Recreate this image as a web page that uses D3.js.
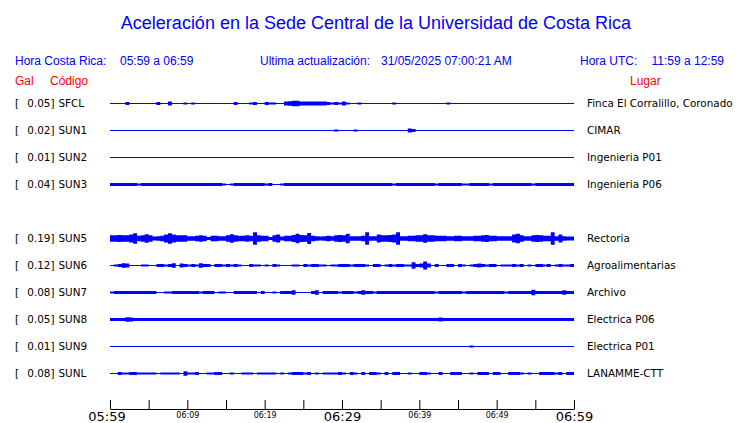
<!DOCTYPE html>
<html><head><meta charset="utf-8">
<script src="https://cdn.jsdelivr.net/npm/d3@7"></script>
<style>body{margin:0;background:#fff}svg{display:block}</style>
</head><body>
<svg id="c" width="740" height="423"></svg>
<script>
// ---------- data ----------
const stations = ["SFCL","SUN1","SUN2","SUN3","SUN5","SUN6","SUN7","SUN8","SUN9","SUNL"];
const rowSlots = [0,1,2,3,5,6,7,8,9,10];
const galValues = ["0.05","0.02","0.01","0.04","0.19","0.12","0.08","0.05","0.01","0.08"];
const places = ["Finca El Corralillo, Coronado","CIMAR","Ingenieria P01","Ingenieria P06","Rectoria","Agroalimentarias","Archivo","Electrica P06","Electrica P01","LANAMME-CTT"];
const tickMinutes = [0,5,10,15,20,25,30,35,40,45,50,55,60];
const tickLabels = ["05:59","06:09","06:19","06:29","06:39","06:49","06:59"];

// envelope amplitude per 30-second window (relative units), 120 windows = 60 min
const SFCL = [0,0,0,0,1,0,0,0,0,0, 0,0,1,0,0,1.5,0,0,0,0.5, 0,0.5,0,0,0,0,0,0,0,0, 0,0,1,0,0,0,0.5,1,0,0,
  1,0.5,0.5,0,0,1.5,2,2.5,2.5,1.5, 1.5,1.5,1.5,1.5,1.5,1.5,1,0.5,1,0.5, 1.5,0.5,0,0,0.5,0,0,0,0,0, 0,0,0,0.5,0,0,0,0,0,0,
  0,0,0,0,0,0,0,0.5,0,0, 0,0,0,0,0,0,0,0,0,0, 0,0,0,0,0,0,0,0,0,0, 0,0,0,0,0,0,0,0,0,0];
const SUN1 = [0,0,0,0,0,0,0,0,0,0, 0,0,0,0,0,0,0,0,0,0, 0,0,0,0,0,0,0,0,0,0, 0,0,0,0,0,0,0,0,0,0,
  0,0,0,0,0,0,0,0,0,0, 0,0,0,0,0,0,0,0,0.5,0, 0,0,0,0.5,0,0,0,0,0,0, 0,0,0,0,0,0,0,1.5,1,0,
  0,0,0,0,0,0,0,0,0,0, 0,0,0,0,0,0,0,0,0,0, 0,0,0,0,0,0,0,0,0,0, 0,0,0,0,0,0,0,0,0,0];
const SUN2 = [0,0,0,0,0,0,0,0,0,0, 0,0,0,0,0,0,0,0,0,0, 0,0,0,0,0,0,0,0,0,0, 0,0,0,0,0,0,0,0,0,0,
  0,0,0,0,0,0,0,0,0,0, 0,0,0,0,0,0,0,0,0,0, 0,0,0,0,0,0,0,0,0,0, 0,0,0,0,0,0,0,0,0,0,
  0,0,0,0,0,0,0,0,0,0, 0,0,0,0,0,0,0,0,0,0, 0,0,0,0,0,0,0,0,0,0, 0,0,0,0,0,0,0,0,0,0];
const SUN3 = [1,1,1,1,1,1,1,0.5,1,1, 1,1,1,1,1,1,1,1,1,1, 1,1,1,1,1,1,1,1,1,0.5, 0,0.5,1,1,1,1,1,1,1,1,
  0.5,1,0,0,0.5,1,1,1,1,1, 1,1,1,1,1,1,1,1,1,1, 1,1,1,1,1,1,1,1,1,1, 1,1,1,0.5,1,1,1,1,1,1,
  1,1,1,1,0.5,1,1,1,1,1, 1,0.5,0.5,1,1,1,1,1,0.5,1, 1,1,1,1,1,1,1,1,1,0.5, 1,1,1,1,1,1,1,1,1,1];
const SUN5 = [3,3,3.5,3,3,4,5.5,2.5,3,4.5, 3,1.5,2,2.5,4,5.5,4,3,3,3, 2,2,2.5,3,2.5,1,2.5,2.5,2,2, 3,4.5,3,2.5,2.5,3,2.5,7,3,2.5,
  2.5,1,3,4,1.5,2.5,2.5,3.5,5,3.5, 3,6,2.5,2,1.5,2,2.5,2,3,3.5, 3,5,2,2,2,2.5,7,2,2,4, 3,3,3.5,4,7,2,2,2.5,2.5,3,
  3,4.5,3,3,2.5,2.5,2.5,2,2,2.5, 2.5,2,2,2,2.5,2.5,3,3.5,2.5,2.5, 2,2,2,2,4,5,3,2,2,3, 3.5,3,2.5,2.5,7,2,4,2,1.5,1.5];
const SUN6 = [0,0.5,1,2,1.5,0,0,0,0.5,0.5, 0,0,1,1,0.5,1,2,0,1.5,1, 0.5,1,0.5,2,1,1,0,1,1,0.5, 1,0.5,1,0.5,0,0,1,0.5,0.5,0,
  0.5,0,1,0.5,0,0,0,0.5,0.5,0, 1,0.5,1,1,0.5,0.5,0,0.5,0.5,1, 1,1,0.5,1,1,1,0.5,0,1,1, 0,0.5,1,0.5,1,1,0.5,0.5,3,1,
  1.5,4,1.5,0,1,0,0,1,1,0, 1,0.5,0,0.5,1,1.5,1,0.5,1,1, 0,0.5,0.5,0.5,1,0.5,1,0,0.5,0, 1,1,0.5,1,0,0.5,1,0.5,0.5,1];
const SUN7 = [0.5,1,1,1,1,1,1,1,1,1, 1,1,0,0,0.5,0.5,1,1,1,1, 1,1,1,0.5,1,1,1,0,0.5,0.5, 0,0,1,1,1,1,1,1,0,1,
  0,0,0.5,0,1,1,1,2,0,0, 0,0,1,2,0,1,1,1,1,0.5, 1,1,1,0.5,1,2,1,1,0.5,1, 1,1,1,1,1,1,1,1,1,1,
  1,1,1,1,0.5,1,1,1,1,1, 1,0.5,1,1,1,1,1,1,1,1, 1,1,0.5,1,1,1,1,1,1,2.5, 1,1,1,1,1,1,1,2,1,1];
const SUN8 = [1,1,1,1,2,1.5,1,1,1,1, 1,1,1,1,1,1,1,1,1,1, 1,1,1,1,1,1,1,1,1,1, 1,1,1,1,1,1,1,1,1,1,
  1,1,1,1,1,1,1,1,1,1, 1,1,1,1,1,1,1,1,1,1, 1,1,1,1,1,1,1,1,1,1, 1,1,1,1,1,1,1,1,1,1,
  1,1,1,1,1,1.5,1,1,1,1, 1,1,1,1,1,1,1,1,1,1, 1,1,1,1,1,1,1,1,1,1, 1,1,1,1,1,1,1,1,1,1];
const SUN9 = [0,0,0,0,0,0,0,0,0,0, 0,0,0,0,0,0,0,0,0,0, 0,0,0,0,0,0,0,0,0,0, 0,0,0,0,0,0,0,0,0,0,
  0,0,0,0,0,0,0,0,0,0, 0,0,0,0,0,0,0,0,0,0, 0,0,0,0,0,0,0,0,0,0, 0,0,0,0,0,0,0,0,0,0,
  0,0,0,0,0,0,0,0,0,0, 0,0,0,0.5,0,0,0,0,0,0, 0,0,0,0,0,0,0,0,0,0, 0,0,0,0,0,0,0,0,0,0];
const SUNL = [0,0,1,0.5,0.5,1,1,0.5,0.5,0.5, 0.5,0.5,0,0.5,0.5,0.5,0.5,0.5,0,2, 0.5,0.5,1,0,0,0.5,0.5,1,1,0, 0,0.5,0,0,0.5,0.5,0.5,0,0.5,0.5,
  0.5,0.5,0.5,0,0.5,0,0.5,1,1,1, 0.5,1,0,0.5,0,0.5,0.5,0.5,0.5,1, 0.5,0,1,0.5,0,1,0,1,1,0.5, 0,1,0,1,1,0,0,0.5,0,0,
  1,1,0.5,0,0,1,0,0,1,1, 1,0,0,0.5,0,1,1,1,0,1, 1,0,0,1,1,1,0.5,0,0.5,0, 0,1,1,1,1,0.5,1,0,1,1];
const traces = [SFCL,SUN1,SUN2,SUN3,SUN5,SUN6,SUN7,SUN8,SUN9,SUNL];

// ---------- drawing ----------
const svg = d3.select("#c");
const BLUE = "#0000ff", RED = "#ff0000";
const HEAD = "'Liberation Sans', Arial, Helvetica, sans-serif";
const LAB = "'DejaVu Sans', Verdana, sans-serif";

const x = d3.scaleLinear().domain([0, 60]).range([110, 574]);
const y = d3.scaleLinear().domain([0, 10]).range([103.5, 373.5]);
const ampScale = d3.scalePow().exponent(0.9).domain([0, 1]).range([0, 1]);
const amp = a => 0.5 + ampScale(a);

svg.append("text").attr("x", 376).attr("y", 29).attr("text-anchor", "middle")
  .attr("font-family", HEAD).attr("font-size", 18).attr("fill", BLUE)
  .text("Aceleración en la Sede Central de la Universidad de Costa Rica");

const head = [
  {t:"Hora Costa Rica:", x:15, a:"start", c:BLUE, yy:64.5},
  {t:"05:59 a 06:59", x:120, a:"start", c:BLUE, yy:64.5},
  {t:"Ultima actualización:", x:260, a:"start", c:BLUE, yy:64.5},
  {t:"31/05/2025 07:00:21 AM", x:381, a:"start", c:BLUE, yy:64.5},
  {t:"Hora UTC:", x:580, a:"start", c:BLUE, yy:64.5},
  {t:"11:59 a 12:59", x:724, a:"end", c:BLUE, yy:64.5},
  {t:"Gal", x:15, a:"start", c:RED, yy:84.5},
  {t:"Código", x:50, a:"start", c:RED, yy:84.5},
  {t:"Lugar", x:630, a:"start", c:RED, yy:84.5}
];
svg.selectAll("text.head").data(head).enter().append("text")
  .attr("class","head").attr("x", d=>d.x).attr("y", d=>d.yy)
  .attr("text-anchor", d=>d.a).attr("font-family", HEAD).attr("font-size", 12)
  .attr("fill", d=>d.c).text(d=>d.t);

const area = d3.area()
  .x(d => x(d.t))
  .y0(d => d.row - amp(d.a))
  .y1(d => d.row + amp(d.a))
  .curve(d3.curveStepAfter);

stations.forEach((s, k) => {
  const row = y(rowSlots[k]);
  const vals = traces[k];
  const pts = vals.map((a, i) => ({t: i * 60 / vals.length, a, row}));
  pts.push({t: 60, a: vals[vals.length - 1], row});
  svg.append("path").attr("d", area(pts)).attr("fill", BLUE);

  const ty = row + 3.7;
  const g = svg.append("g").attr("font-family", LAB).attr("font-size", 10.4).attr("fill", "#000");
  g.append("text").attr("x", 15).attr("y", ty).text("[");
  g.append("text").attr("x", 54.5).attr("y", ty).attr("text-anchor", "end").text(galValues[k] + "]");
  g.append("text").attr("x", 58.5).attr("y", ty).text(s);
  g.append("text").attr("x", 587).attr("y", ty).text(places[k]);
});

const axis = d3.axisBottom(x).tickValues(tickMinutes)
  .tickSizeInner(-9).tickSizeOuter(0)
  .tickFormat(d => d % 10 === 0 ? tickLabels[d / 10] : "");
const ag = svg.append("g").attr("transform", "translate(0,409)").call(axis);
ag.select(".domain").attr("stroke", "#000");
ag.selectAll(".tick line").attr("stroke", "#000");
ag.selectAll(".tick text")
  .attr("font-family", LAB).attr("fill", "#000").attr("dy", null)
  .attr("font-size", d => d % 30 === 0 ? 13 : 8)
  .attr("x", d => d === 0 ? -3.5 : 0)
  .attr("y", d => d % 30 === 0 ? 12 : 9);
</script>
</body></html>
